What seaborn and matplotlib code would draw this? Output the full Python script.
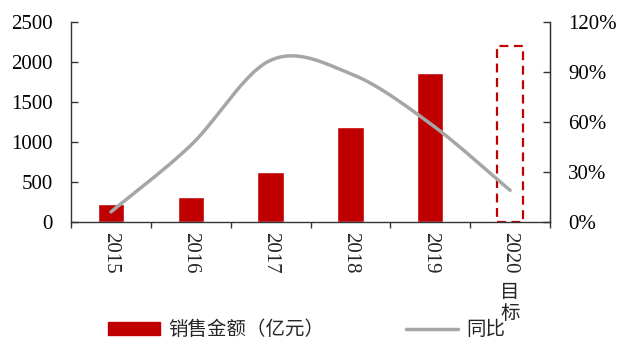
import numpy as np
import pandas as pd
import matplotlib
matplotlib.use("Agg")
import matplotlib.pyplot as plt
import seaborn as sns
from matplotlib.lines import Line2D
from matplotlib.patches import Patch

# data
years = ["2015", "2016", "2017", "2018", "2019", "2020"]
sales = [225, 315, 625, 1185, 1860, 2200]      # 销售金额（亿元）
yoy = [0.06, 0.46, 0.97, 0.89, 0.59, 0.19]      # 同比

bar_red = "#C00000"
line_grey = "#A6A6A6"


def smooth(xs, ys, n=30):
    """Catmull-Rom curve through the points, like Excel's smoothed line"""
    xs = np.asarray(xs, float)
    ys = np.asarray(ys, float)
    px = np.concatenate([[2 * xs[0] - xs[1]], xs, [2 * xs[-1] - xs[-2]]])
    py = np.concatenate([[2 * ys[0] - ys[1]], ys, [2 * ys[-1] - ys[-2]]])
    out_x, out_y = [], []
    for i in range(1, len(px) - 2):
        t = np.linspace(0, 1, n, endpoint=(i == len(px) - 3))
        for p, out in ((px, out_x), (py, out_y)):
            p0, p1, p2, p3 = p[i - 1], p[i], p[i + 1], p[i + 2]
            out.extend(0.5 * ((2 * p1) + (-p0 + p2) * t
                              + (2 * p0 - 5 * p1 + 4 * p2 - p3) * t ** 2
                              + (-p0 + 3 * p1 - 3 * p2 + p3) * t ** 3))
    return np.array(out_x), np.array(out_y)


sns.set_style("ticks")
plt.rcParams["font.family"] = ["Liberation Serif", "Noto Sans CJK SC"]

fig = plt.figure(figsize=(6.18, 3.43), dpi=100)
ax = fig.add_axes([0.115, 0.353, 0.775, 0.583])

df = pd.DataFrame({"year": years, "sales": sales})
sns.barplot(data=df, x="year", y="sales", color=bar_red, width=0.33,
            saturation=1, ax=ax)
# 2020 target drawn as an empty dashed box
target = ax.patches[-1]
target.set_facecolor("none")
target.set_edgecolor(bar_red)
target.set_linestyle((0, (4, 2.5)))
target.set_linewidth(1.6)

ax.set_xlim(-0.5, 5.5)
ax.set_ylim(0, 2500)
ax.set_yticks(range(0, 2501, 500))
ax.set_xlabel("")
ax.set_ylabel("")
ax.set_xticks(np.arange(-0.5, 5.6, 1.0))
ax.set_xticklabels([])
ax.tick_params(axis="x", direction="out", length=4, width=1, colors="#333333")
ax.tick_params(axis="y", direction="in", length=5, width=1, labelsize=15,
               colors="#333333", pad=13)
for lab in ax.get_yticklabels():
    lab.set_color("black")
ax.spines["top"].set_visible(False)
for s in ["left", "bottom", "right"]:
    ax.spines[s].set_color("#333333")
    ax.spines[s].set_linewidth(1)

# rotated year labels
for i, y in enumerate(years):
    ax.text(i, -0.05, y, transform=ax.get_xaxis_transform(), rotation=270,
            ha="center", va="top", fontsize=15, family="Liberation Serif")
ax.text(5, -0.3, "目\n标", transform=ax.get_xaxis_transform(),
        ha="center", va="top", fontsize=14, linespacing=1.0,
        family=["Noto Sans CJK SC", "Liberation Serif"])

ax2 = ax.twinx()
sx, sy = smooth(range(len(years)), yoy)
sns.lineplot(x=sx, y=sy, color=line_grey, linewidth=2.5, ax=ax2,
             sort=False, estimator=None)
ax2.set_ylim(0, 1.2)
ax2.set_yticks(np.arange(0, 1.21, 0.3))
ax2.set_yticklabels([f"{int(round(v * 100))}%" for v in np.arange(0, 1.21, 0.3)])
ax2.tick_params(axis="y", direction="in", length=5, width=1, labelsize=15,
                colors="#333333", pad=13)
for lab in ax2.get_yticklabels():
    lab.set_color("black")
ax2.spines["top"].set_visible(False)
ax2.spines["left"].set_visible(False)
ax2.spines["right"].set_color("#333333")
ax2.spines["bottom"].set_visible(False)
ax2.set_xlim(-0.5, 5.5)

handles = [Patch(facecolor=bar_red, edgecolor=bar_red),
           Line2D([0], [0], color=line_grey, linewidth=2.5)]
fig.legend(handles, ["销售金额（亿元）", "同比"], loc="center",
           bbox_to_anchor=(0.496, 0.038), ncol=2, frameon=False,
           prop={"family": ["Noto Sans CJK SC"], "size": 14},
           handlelength=2.7, handleheight=0.6, columnspacing=4.2,
           handletextpad=0.4)

fig.savefig("out.png", dpi=100)
